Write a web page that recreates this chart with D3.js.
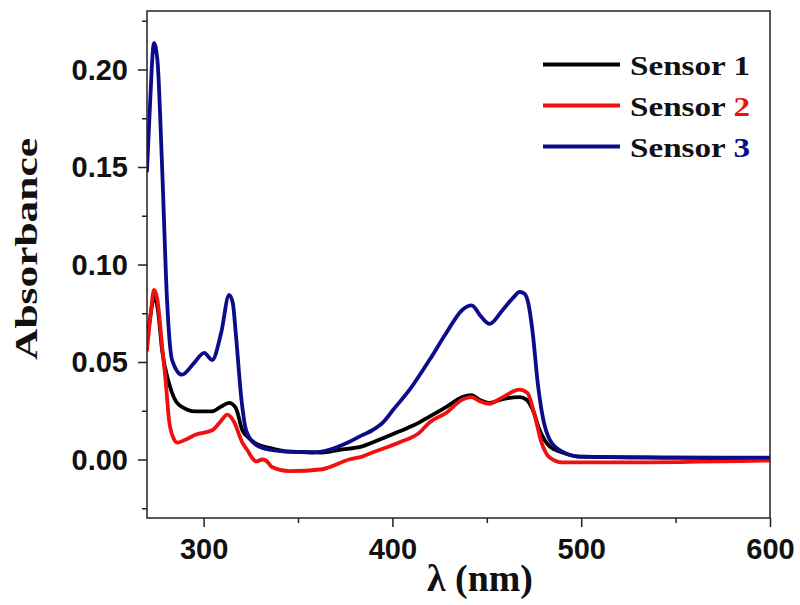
<!DOCTYPE html>
<html>
<head>
<meta charset="utf-8">
<script src="https://cdn.jsdelivr.net/npm/d3@7"></script>
<style>
  html, body { margin: 0; padding: 0; background: #fff; }
  svg { display: block; }
</style>
</head>
<body>
<svg id="chart" width="800" height="605"></svg>
<script>
// ---- data ----
const seriesNames = ["Sensor 1", "Sensor 2", "Sensor 3"];
const seriesNumbers = ["1", "2", "3"];
const seriesColors = ["#000000", "#f01010", "#0c0c8a"];

const wl1 = [270, 272, 274, 276, 278, 281.7, 287, 296, 304.5, 309, 313.5, 317, 320.5, 324, 328, 334.8, 345.4, 362.9, 371.9, 384, 389.4, 403.5, 414.3, 419.6, 428.6, 437, 441.9, 446, 451.4, 458.4, 467.4, 471, 474.3, 478, 483.3, 490, 499, 550, 600];
const abs1 = [0.060, 0.075, 0.084, 0.075, 0.056, 0.039, 0.028, 0.0247, 0.0247, 0.027, 0.029, 0.0265, 0.015, 0.011, 0.008, 0.006, 0.004, 0.0036, 0.005, 0.0067, 0.0087, 0.0143, 0.019, 0.022, 0.027, 0.032, 0.033, 0.0307, 0.029, 0.031, 0.032, 0.0307, 0.0256, 0.015, 0.0067, 0.0036, 0.0015, 0.001, 0.0005];

const wl2 = [270, 272, 273.7, 275.5, 278, 280, 281.7, 284, 286, 290, 296, 304.5, 309, 312.5, 316, 320.5, 323, 327.9, 331, 333, 336.4, 345.4, 362.9, 366.5, 377, 384, 389.4, 403.5, 414.3, 419.6, 428.6, 437, 441.9, 446, 451.4, 458.4, 467.4, 471.6, 475, 479, 483.3, 490, 520, 600];
const abs2 = [0.056, 0.075, 0.087, 0.082, 0.058, 0.039, 0.020, 0.011, 0.0087, 0.010, 0.0128, 0.015, 0.0195, 0.023, 0.0195, 0.0087, 0.005, -0.001, 0.0, -0.0005, -0.004, -0.006, -0.005, -0.004, 0.0, 0.0015, 0.0036, 0.0087, 0.0138, 0.019, 0.024, 0.0307, 0.032, 0.030, 0.0286, 0.032, 0.0358, 0.034, 0.024, 0.0087, 0.001, -0.0015, -0.0015, -0.0005];

const wl3 = [270, 271.5, 273.7, 275.5, 278, 280.6, 283.3, 288.5, 295, 300.3, 304.5, 309.3, 313.5, 315.5, 317, 320, 322.5, 327.8, 335, 345, 357.6, 366.5, 377, 384, 389.4, 395, 400, 410, 419.6, 428.6, 437, 441.9, 447.2, 451.4, 458.4, 464, 467.4, 470, 472, 474.3, 477, 479.6, 483.3, 490, 499, 550, 600];
const abs3 = [0.148, 0.180, 0.2135, 0.205, 0.150, 0.082, 0.051, 0.0435, 0.0496, 0.0547, 0.051, 0.065, 0.0844, 0.080, 0.065, 0.031, 0.015, 0.0075, 0.005, 0.004, 0.0036, 0.005, 0.009, 0.0125, 0.015, 0.019, 0.025, 0.037, 0.051, 0.065, 0.0767, 0.079, 0.073, 0.0696, 0.0767, 0.083, 0.086, 0.085, 0.080, 0.065, 0.039, 0.022, 0.0102, 0.004, 0.0015, 0.001, 0.001];

const xTicks = [300, 400, 500, 600];
const xMinorTicks = [350, 450, 550];
const yTicks = [0.00, 0.05, 0.10, 0.15, 0.20];
const yMinorTicks = [-0.025, 0.025, 0.075, 0.125, 0.175, 0.225];

const xLabel = "λ (nm)";
const yLabel = "Absorbance";

// ---- layout ----
const svg = d3.select("#chart");
const L = 147, R = 770, T = 11, B = 518;

const x = d3.scaleLinear().domain([270, 600]).range([L, R]);
const y = d3.scaleLinear().domain([-0.03, 0.23]).range([B, T]);

const series = [
  { wl: wl1, abs: abs1 },
  { wl: wl2, abs: abs2 },
  { wl: wl3, abs: abs3 }
];

svg.append("defs").append("clipPath").attr("id", "clip")
  .append("rect").attr("x", L).attr("y", T).attr("width", R - L).attr("height", B - T);

const line = d3.line()
  .x(d => x(d[0]))
  .y(d => y(d[1]))
  .curve(d3.curveMonotoneX);

const plot = svg.append("g").attr("clip-path", "url(#clip)");
series.forEach((s, i) => {
  const pts = s.wl.map((w, j) => [w, s.abs[j]]);
  plot.append("path")
    .datum(pts)
    .attr("fill", "none")
    .attr("stroke", seriesColors[i])
    .attr("stroke-width", 3.8)
    .attr("stroke-linejoin", "round")
    .attr("stroke-linecap", "round")
    .attr("d", line);
});

// ---- axes ----
const tickFont = "'Liberation Sans', Arial, sans-serif";
const serifFont = "'Times New Roman', 'Liberation Serif', Times, serif";

const xAxis = svg.append("g").attr("transform", `translate(0,${B})`)
  .call(d3.axisBottom(x).tickValues(xTicks).tickSize(9).tickPadding(11).tickFormat(d3.format("d")));
const xAxisMinor = svg.append("g").attr("transform", `translate(0,${B})`)
  .call(d3.axisBottom(x).tickValues(xMinorTicks).tickSize(5).tickFormat(""));
const yAxis = svg.append("g").attr("transform", `translate(${L},0)`)
  .call(d3.axisLeft(y).tickValues(yTicks).tickSize(9).tickPadding(10).tickFormat(d3.format(".2f")));
const yAxisMinor = svg.append("g").attr("transform", `translate(${L},0)`)
  .call(d3.axisLeft(y).tickValues(yMinorTicks).tickSize(5).tickFormat(""));

[xAxis, xAxisMinor, yAxis, yAxisMinor].forEach(g => {
  g.select(".domain").remove();
  g.selectAll(".tick line").attr("stroke", "#222").attr("stroke-width", 1.5);
  g.selectAll(".tick text")
    .attr("fill", "#111")
    .style("font-family", tickFont)
    .style("font-weight", "bold")
    .style("font-size", "29px");
});
yAxis.selectAll(".tick text").attr("dy", "0.34em");
xAxis.selectAll(".tick text").attr("dy", "0.72em");

// frame
svg.append("rect")
  .attr("x", L).attr("y", T).attr("width", R - L).attr("height", B - T)
  .attr("fill", "none").attr("stroke", "#222").attr("stroke-width", 1.5);

// axis titles
const xt = svg.append("text")
  .attr("text-anchor", "middle")
  .style("font-family", serifFont).style("font-weight", "bold").style("font-size", "37px")
  .attr("fill", "#111")
  .text(xLabel);
{
  const w = xt.node().getComputedTextLength();
  xt.attr("transform", `translate(480,591) scale(${106 / w},1)`);
}

const yt = svg.append("text")
  .attr("text-anchor", "middle")
  .style("font-family", serifFont).style("font-weight", "bold").style("font-size", "32px")
  .attr("fill", "#111")
  .text(yLabel);
{
  const w = yt.node().getComputedTextLength();
  yt.attr("transform", `translate(37,249) rotate(-90) scale(${222 / w},1)`);
}

// legend
const legend = svg.append("g");
const rowY = [75, 116, 157];
seriesNames.forEach((name, i) => {
  legend.append("line")
    .attr("x1", 543).attr("x2", 620)
    .attr("y1", rowY[i] - 10.5).attr("y2", rowY[i] - 10.5)
    .attr("stroke", seriesColors[i]).attr("stroke-width", 3.8);
  const t = legend.append("text")
    .style("font-family", serifFont).style("font-weight", "bold").style("font-size", "27px")
    .attr("fill", "#111");
  t.append("tspan").text(name.replace(/\s*\d+$/, "") + " ");
  t.append("tspan").attr("fill", seriesColors[i] === "#000000" ? "#111" : seriesColors[i]).text(seriesNumbers[i]);
  const w = t.node().getComputedTextLength();
  t.attr("transform", `translate(630,${rowY[i]}) scale(${120 / w},1)`);
});
</script>
</body>
</html>
